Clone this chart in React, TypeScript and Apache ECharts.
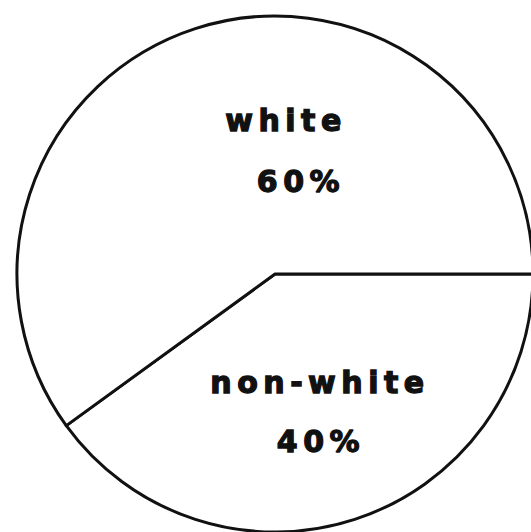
import React, { useEffect, useRef } from "react";
import * as echarts from "echarts";

const categories = ["non-white", "white"];
const values = [40, 60];

// label anchor positions (layout only)
const labelPos = [
  { x: 320, y: 412 },
  { x: 286, y: 151 },
];
const pctShift = [2, 30];

export default function App() {
  const ref = useRef<HTMLDivElement>(null);
  useEffect(() => {
    if (!ref.current) return;
    const chart = echarts.init(ref.current, undefined, { renderer: "svg" });
    const textStyle = {
      fontFamily: "DejaVu Sans",
      fontWeight: "bold",
      fontSize: 30,
      color: "#111",
      textBorderColor: "#111",
      textBorderWidth: 1.3,
    };
    const data = categories.map((name, i) => ({
      name,
      value: values[i],
      label: {
        formatter: "{n|{b}}\n{p|{d}%}",
        rich: {
          n: { ...textStyle, lineHeight: i === 0 ? 59 : 61 },
          p: { ...textStyle, lineHeight: i === 0 ? 59 : 61, padding: [0, 0, 0, pctShift[i]] },
        },
      },
    }));
    chart.setOption({
      animation: false,
      backgroundColor: "#ffffff",
      series: [
        {
          type: "pie",
          center: [275, 274],
          radius: [0, 258],
          startAngle: 0,
          clockwise: true,
          silent: true,
          itemStyle: {
            color: "#ffffff",
            borderColor: "#111111",
            borderWidth: 3,
          },
          label: {
            show: true,
            position: "inside",
            align: "center",
            verticalAlign: "middle",
          },
          labelLine: { show: false },
          labelLayout: (params: any) => {
            const p = labelPos[params.dataIndex];
            return { x: p.x, y: p.y, align: "center", verticalAlign: "middle" };
          },
          data,
        },
      ],
    });
    return () => chart.dispose();
  }, []);
  return (
    <>
      <style>{`#pie-chart svg text { letter-spacing: 5.5px; }`}</style>
      <div
        id="pie-chart"
        ref={ref}
        style={{ position: "fixed", left: 0, top: 0, width: 531, height: 532, background: "#fff" }}
      />
    </>
  );
}
